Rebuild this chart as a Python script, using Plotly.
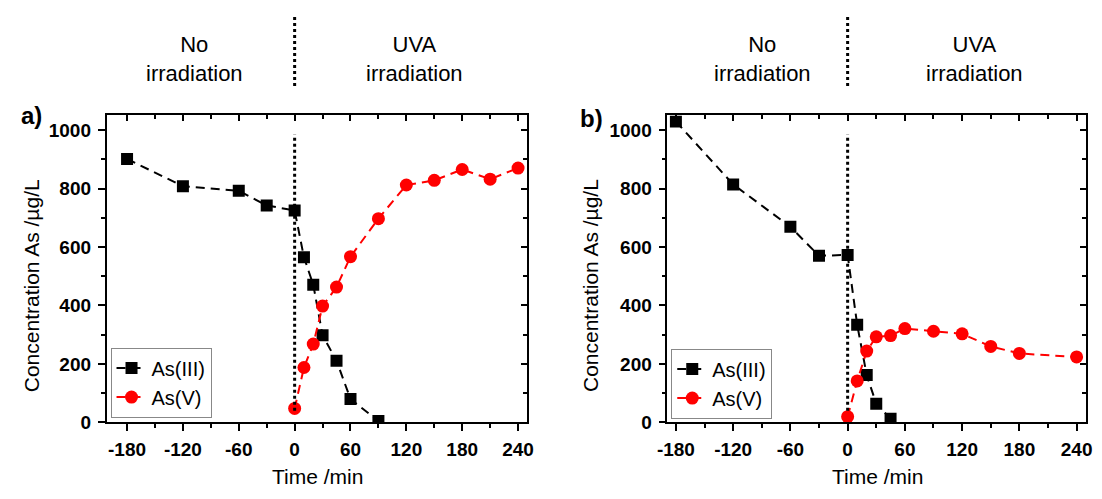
import plotly.graph_objects as go

# ---------------- data ----------------
time_a_as3 = [-180, -120, -60, -30, 0, 10, 20, 30, 45, 60, 90]
conc_a_as3 = [901, 808, 792, 742, 725, 565, 471, 298, 211, 80, 5]
time_a_as5 = [0, 10, 20, 30, 45, 60, 90, 120, 150, 180, 210, 240]
conc_a_as5 = [48, 188, 268, 398, 463, 567, 697, 812, 828, 865, 832, 870]

time_b_as3 = [-180, -120, -60, -30, 0, 10, 20, 30, 45]
conc_b_as3 = [1029, 814, 669, 570, 573, 334, 162, 64, 13]
time_b_as5 = [0, 10, 20, 30, 45, 60, 90, 120, 150, 180, 240]
conc_b_as5 = [20, 142, 244, 293, 297, 321, 312, 303, 260, 236, 224]

x_ticks = [-180, -120, -60, 0, 60, 120, 180, 240]
y_ticks = [0, 200, 400, 600, 800, 1000]
series_names = ["As(III)", "As(V)"]
panel_labels = ["a)", "b)"]
region_labels = ["No<br>irradiation", "UVA<br>irradiation"]
x_title = "Time /min"
y_title = "Concentration As /µg/L"

# ---------------- style ----------------
W, H = 1102, 499
FONT = "Liberation Sans, Arial, sans-serif"
BLACK = "#000000"
RED = "#ff0000"
DASH = "9px,6px"

def px_x(p):
    return p / W

def px_y(p):
    return (H - p) / H

y_dom = [px_y(432), px_y(118)]
dom_a = [px_x(98), px_x(525)]
dom_b = [px_x(667), px_x(1092)]
range_a = [-202, 250]
range_b = [-189, 250]
y_range = [0, 1050]

fig = go.Figure()

def add_series(t, c, name, color, symbol, size, xa, ya, legend):
    fig.add_trace(go.Scatter(
        x=t, y=c, name=name, mode="lines+markers",
        line=dict(color=color, width=2, dash=DASH),
        marker=dict(symbol=symbol, size=size, color=color),
        xaxis=xa, yaxis=ya, legend=legend,
    ))

add_series(time_a_as3, conc_a_as3, series_names[0], BLACK, "square", 12, "x", "y", "legend")
add_series(time_a_as5, conc_a_as5, series_names[1], RED, "circle", 13, "x", "y", "legend")
add_series(time_b_as3, conc_b_as3, series_names[0], BLACK, "square", 12, "x2", "y2", "legend2")
add_series(time_b_as5, conc_b_as5, series_names[1], RED, "circle", 13, "x2", "y2", "legend2")

# empty traces to host the mirrored (inside-tick) axes
for xa, ya in [("x3", "y3"), ("x4", "y4")]:
    fig.add_trace(go.Scatter(x=[], y=[], xaxis=xa, yaxis=ya, showlegend=False,
                             hoverinfo="skip"))

tickfont = dict(family=FONT, size=19, color=BLACK, weight="bold")

def main_x(dom, rng, anchor):
    return dict(domain=dom, range=rng, anchor=anchor, tickmode="array",
                tickvals=x_ticks, ticktext=[str(v) for v in x_ticks],
                ticks="outside", ticklen=7, tickwidth=1.5, tickcolor=BLACK,
                ticklabelstandoff=2,
                minor=dict(tickmode="linear", tick0=0, dtick=30, ticks="outside",
                           ticklen=4, tickwidth=1.5, tickcolor=BLACK),
                showline=True, linecolor=BLACK, linewidth=1.5, mirror=True,
                showgrid=False, zeroline=False, tickfont=tickfont)

def main_y(rng, anchor):
    return dict(domain=y_dom, range=rng, anchor=anchor, tickmode="array",
                tickvals=y_ticks, ticktext=[str(v) for v in y_ticks],
                ticks="outside", ticklen=7, tickwidth=1.5, tickcolor=BLACK,
                ticklabelstandoff=3,
                minor=dict(tickmode="linear", tick0=0, dtick=100, ticks="outside",
                           ticklen=4, tickwidth=1.5, tickcolor=BLACK),
                showline=True, linecolor=BLACK, linewidth=1.5, mirror=True,
                showgrid=False, zeroline=False, tickfont=tickfont)

def mirror_x(dom, rng, over, anchor):
    return dict(domain=dom, range=rng, overlaying=over, anchor=anchor, side="top",
                tickmode="array", tickvals=x_ticks, ticks="inside", ticklen=6,
                tickwidth=1.5, tickcolor=BLACK, showticklabels=False,
                minor=dict(tickmode="linear", tick0=0, dtick=30, ticks="inside",
                           ticklen=4, tickwidth=1.5, tickcolor=BLACK),
                showline=False, showgrid=False, zeroline=False)

def mirror_y(rng, over, anchor):
    return dict(domain=y_dom, range=rng, overlaying=over, anchor=anchor, side="right",
                tickmode="array", tickvals=y_ticks, ticks="inside", ticklen=6,
                tickwidth=1.5, tickcolor=BLACK, showticklabels=False,
                minor=dict(tickmode="linear", tick0=0, dtick=100, ticks="inside",
                           ticklen=4, tickwidth=1.5, tickcolor=BLACK),
                showline=False, showgrid=False, zeroline=False)

legend_style = dict(font=dict(family=FONT, size=20, color=BLACK), bgcolor="white",
                    bordercolor="#888888", borderwidth=1, xanchor="left",
                    yanchor="bottom", tracegroupgap=0)

fig.update_layout(
    width=W, height=H, margin=dict(l=0, r=0, t=0, b=0),
    paper_bgcolor="white", plot_bgcolor="white",
    font=dict(family=FONT, color=BLACK),
    xaxis=main_x(dom_a, range_a, "y"),
    yaxis=main_y(y_range, "x"),
    xaxis2=main_x(dom_b, range_b, "y2"),
    yaxis2=main_y(y_range, "x2"),
    xaxis3=mirror_x(dom_a, range_a, "x", "y3"),
    yaxis3=mirror_y(y_range, "y", "x3"),
    xaxis4=mirror_x(dom_b, range_b, "x2", "y4"),
    yaxis4=mirror_y(y_range, "y2", "x4"),
    legend=dict(x=px_x(102), y=px_y(427), **legend_style),
    legend2=dict(x=px_x(671), y=px_y(428), **legend_style),
    showlegend=True,
)

# vertical dotted line at t = 0 inside each panel and above each panel
for xr, yr in [("x", "y"), ("x2", "y2")]:
    fig.add_shape(type="line", xref=xr, yref=yr, x0=0, x1=0, y0=40, y1=985,
                  line=dict(color=BLACK, width=3, dash="dot"))
    fig.add_shape(type="line", xref=xr, yref="paper", x0=0, x1=0,
                  y0=px_y(88), y1=px_y(15),
                  line=dict(color=BLACK, width=3, dash="dot"))

# region labels above panels
label_pos = {"x": (-108, 129), "x2": (-89, 133)}
for xr, (xl, xr_pos) in label_pos.items():
    for xv, txt in zip((xl, xr_pos), region_labels):
        fig.add_annotation(x=xv, xref=xr, y=px_y(60), yref="paper", text=txt,
                           showarrow=False, xanchor="center", yanchor="middle",
                           font=dict(family=FONT, size=22, color=BLACK))

# panel labels
for xp, yp, txt in [(22, 118, panel_labels[0]), (590, 121, panel_labels[1])]:
    fig.add_annotation(x=px_x(xp), y=px_y(yp), xref="paper", yref="paper", text=txt,
                       showarrow=False, xanchor="center", yanchor="middle",
                       font=dict(family=FONT, size=24, color=BLACK, weight="bold"))

# axis titles
for xp in (22, 589):
    fig.add_annotation(x=px_x(xp), y=px_y(292), xref="paper", yref="paper",
                       text=y_title, textangle=-90, showarrow=False,
                       xanchor="center", yanchor="middle",
                       font=dict(family=FONT, size=21, color=BLACK))
for xp in (312, 880):
    fig.add_annotation(x=px_x(xp), y=px_y(487), xref="paper", yref="paper",
                       text=x_title, showarrow=False, xanchor="center",
                       yanchor="middle", font=dict(family=FONT, size=21, color=BLACK))

fig.write_html("out.html", config={"displayModeBar": False},
               post_script="document.body.style.margin='0';document.body.style.padding='0';")
